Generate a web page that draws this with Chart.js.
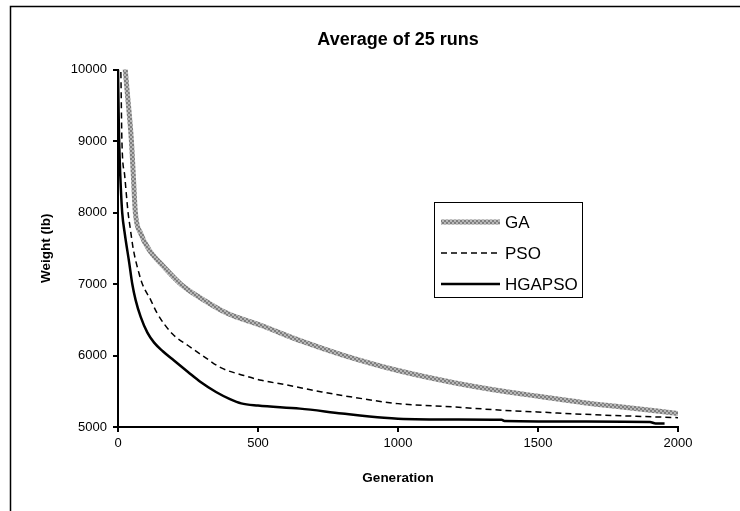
<!DOCTYPE html>
<html>
<head>
<meta charset="utf-8">
<script src="https://cdn.jsdelivr.net/npm/chart.js@4/dist/chart.umd.min.js"></script>
<style>
html,body{margin:0;padding:0;background:#fff;}
#wrap{width:740px;height:511px;position:relative;}
</style>
</head>
<body>
<div id="wrap"><canvas id="c" width="740" height="511"></canvas></div>
<script>
// ---- data ----
const titleText = "Average of 25 runs";
const xTitle = "Generation";
const yTitle = "Weight (lb)";
const seriesNames = ["GA", "PSO", "HGAPSO"];
const xTicks = [0, 500, 1000, 1500, 2000];
const yTicks = [5000, 6000, 7000, 8000, 9000, 10000];

const gaGen = [0, 26, 33, 48, 55, 62, 81, 111, 164, 224, 307, 390, 512, 656, 800, 1000, 1200, 1376, 1500, 1664, 1800, 2000];
const gaVal = [11500, 10000, 9686, 9000, 8500, 8000, 7710, 7480, 7240, 7000, 6775, 6590, 6420, 6200, 6010, 5790, 5620, 5500, 5430, 5340, 5280, 5190];

const psoGen = [0, 10, 14, 24, 36, 43, 55, 75, 87, 117, 140, 194, 250, 307, 367, 450, 512, 600, 728, 850, 1000, 1200, 1376, 1500, 1664, 1850, 2000];
const psoVal = [10800, 10000, 9000, 8515, 8000, 7800, 7480, 7150, 7000, 6775, 6590, 6304, 6140, 5985, 5830, 5720, 5654, 5590, 5490, 5410, 5327, 5280, 5234, 5210, 5178, 5150, 5131];

const hgGen = [0, 3, 6, 10, 15, 24, 40, 51, 63, 81, 105, 129, 160, 200, 250, 295, 350, 400, 440, 500, 650, 800, 950, 1000, 1200, 1370, 1380, 1900, 1920, 1952];
const hgVal = [10000, 9200, 8750, 8350, 8000, 7710, 7300, 7000, 6775, 6540, 6320, 6180, 6060, 5930, 5770, 5630, 5490, 5390, 5330, 5300, 5257, 5190, 5130, 5117, 5105, 5100, 5085, 5070, 5050, 5050];

function pts(g, v){ return g.map((x,i)=>({x:x, y:v[i]})); }

const ctx0 = document.getElementById('c').getContext('2d');
const gaStroke = ctx0.createPattern((function(){
  const p = document.createElement('canvas'); p.width=4; p.height=4;
  const c=p.getContext('2d'); c.fillStyle='#b8b8b8'; c.fillRect(0,0,4,4);
  c.fillStyle='#7e7e7e'; c.fillRect(0,0,2,2); c.fillRect(2,2,2,2); return p;})(),'repeat');

const FONT = "'Liberation Sans', Arial, sans-serif";

const framePlugin = {
  id:'frame',
  beforeDraw(chart){
    const c = chart.ctx;
    c.save();
    c.fillStyle='#fff'; c.fillRect(0,0,chart.width,chart.height);
    c.strokeStyle='#000'; c.lineWidth=1.5;
    c.beginPath();
    c.moveTo(10.5, chart.height+2); c.lineTo(10.5, 6.5); c.lineTo(chart.width+2, 6.5);
    c.stroke();
    c.restore();
  }
};

const legendPlugin = {
  id:'boxLegend',
  afterDraw(chart){
    const c = chart.ctx;
    const left = 434, top = 202, w = 148, h = 95;
    c.save();
    c.fillStyle='#fff'; c.fillRect(left, top, w, h);
    c.strokeStyle='#000'; c.lineWidth=1;
    c.strokeRect(left+0.5, top+0.5, w, h);
    const rows = [222, 253, 284];
    chart.data.datasets.forEach((ds,i)=>{
      c.save();
      c.strokeStyle = ds.borderColor;
      c.lineWidth = ds.borderWidth;
      c.setLineDash(ds.borderDash || []);
      c.beginPath(); c.moveTo(441, rows[i]); c.lineTo(500, rows[i]); c.stroke();
      c.restore();
      c.fillStyle='#000';
      c.font = "17px " + FONT;
      c.textBaseline='middle';
      c.fillText(ds.label, 505, rows[i]+1);
    });
    c.restore();
  }
};

new Chart(document.getElementById('c'), {
  type:'line',
  data:{
    datasets:[
      {label:seriesNames[0], data:pts(gaGen,gaVal), borderColor:gaStroke, borderWidth:5, pointRadius:0, cubicInterpolationMode:'monotone'},
      {label:seriesNames[1], data:pts(psoGen,psoVal), borderColor:'#000', borderWidth:1.5, borderDash:[6,4], pointRadius:0, cubicInterpolationMode:'monotone'},
      {label:seriesNames[2], data:pts(hgGen,hgVal), borderColor:'#000', borderWidth:2.5, pointRadius:0, cubicInterpolationMode:'monotone'}
    ]
  },
  options:{
    responsive:false,
    animation:false,
    events:[],
    layout:{padding:{left:10, right:62, top:9, bottom:0}},
    plugins:{
      legend:{display:false},
      tooltip:{enabled:false},
      title:{display:true, text:titleText, fullSize:false, color:'#000',
        font:{family:FONT, size:18, weight:'bold'}, padding:{top:20, bottom:19}}
    },
    scales:{
      x:{type:'linear', min:0, max:2000,
        afterBuildTicks(s){ s.ticks = xTicks.map(v=>({value:v})); },
        afterFit(s){ s.height = 84; },
        border:{display:true, color:'#000', width:2},
        grid:{display:true, drawOnChartArea:false, drawTicks:true, tickLength:5, color:'#000', lineWidth:2},
        ticks:{color:'#000', font:{family:FONT, size:13}, padding:4, maxRotation:0, callback:v=>String(v)},
        title:{display:true, text:xTitle, color:'#000', font:{family:FONT, size:13.5, weight:'bold'}, padding:{top:0, bottom:25}}
      },
      y:{type:'linear', min:5000, max:10000,
        afterBuildTicks(s){ s.ticks = yTicks.map(v=>({value:v})); },
        afterFit(s){ s.width = 108; },
        border:{display:true, color:'#000', width:2},
        grid:{display:true, drawOnChartArea:false, drawTicks:true, tickLength:5, color:'#000', lineWidth:2},
        ticks:{color:'#000', font:{family:FONT, size:13}, padding:6, callback:v=>String(v)},
        title:{display:true, text:yTitle, color:'#000', font:{family:FONT, size:13.5, weight:'bold'}, padding:{top:28, bottom:0}}
      }
    }
  },
  plugins:[framePlugin, legendPlugin]
});
</script>
</body>
</html>
